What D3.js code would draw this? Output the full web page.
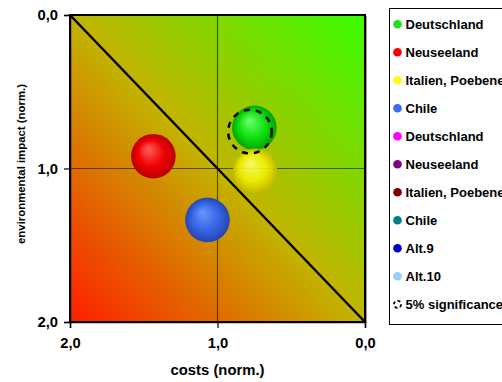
<!DOCTYPE html>
<html>
<head>
<meta charset="utf-8">
<script src="https://cdn.jsdelivr.net/npm/d3@7/dist/d3.min.js"></script>
<style>
  html, body { margin: 0; padding: 0; background: #fff; }
  svg { display: block; }
  text { font-family: "Liberation Sans", Arial, sans-serif; font-weight: bold; }
</style>
</head>
<body>
<svg id="chart" width="502" height="382"></svg>
<script>
// ---- data ----
const categories = ["Deutschland", "Neuseeland", "Italien, Poebene", "Chile"];
const costs      = [0.75, 1.435, 0.746, 1.068];   // x (norm.)
const impacts    = [0.735, 0.92, 1.015, 1.335];   // y (norm.)
const sizes      = [1, 1, 1, 1];
const significanceCost = [0.78];
const significanceImpact = [0.76];
const tickValues = [0, 1, 2];
const legendLabels = ["Deutschland", "Neuseeland", "Italien, Poebene", "Chile",
  "Deutschland", "Neuseeland", "Italien, Poebene", "Chile", "Alt.9", "Alt.10", "5% significance"];
const legendColors = ["#22DD22", "#FF0000", "#FFFF00", "#3D6BF5",
  "#FF00FF", "#800080", "#800000", "#008080", "#0000CC", "#99CCFF", null];

// ---- styling ----
const bubbleStyles = [
  { light: "#6CFF6C", base: "#10E010", dark: "#00A400" },
  { light: "#FF6060", base: "#F00000", dark: "#B80000" },
  { light: "#FFFF70", base: "#F2F000", dark: "#C4B800" },
  { light: "#6A95FF", base: "#3566E6", dark: "#2546AE" }
];

const svg = d3.select("#chart");
const pLeft = 70, pRight = 365, pTop = 15, pBottom = 322;

const x = d3.scaleLinear().domain([2, 0]).range([pLeft, pRight]);
const y = d3.scaleLinear().domain([0, 2]).range([pTop, pBottom]);
const r = d3.scaleSqrt().domain([0, 1]).range([0, 22.3]);

const loc = d3.formatLocale({ decimal: ",", thousands: ".", grouping: [3], currency: ["", "€"] });
const fmt = loc.format(".1f");

// fit a font size so that a text sample reaches a target width
function fitSize(sample, target) {
  const t = svg.append("text").style("font-size", "20px").text(sample);
  const w = t.node().getComputedTextLength();
  t.remove();
  return (20 * target / w).toFixed(2) + "px";
}
const legendSize = fitSize("Deutschland", 78);
const xTitleSize = fitSize("costs (norm.)", 94);
const yTitleSize = fitSize("environmental impact (norm.)", 160);
const tickSize = fitSize("2,0", 20.5);

const defs = svg.append("defs");
const bg = defs.append("linearGradient").attr("id", "bg")
  .attr("x1", 0).attr("y1", 1).attr("x2", 1).attr("y2", 0);
bg.append("stop").attr("offset", 0).attr("stop-color", "#FF1E00");
bg.append("stop").attr("offset", 0.5).attr("stop-color", "#C2B400");
bg.append("stop").attr("offset", 1).attr("stop-color", "#38FF00");

bubbleStyles.forEach((s, i) => {
  const g = defs.append("radialGradient").attr("id", "b" + i)
    .attr("cx", "50%").attr("cy", "50%").attr("r", "50%")
    .attr("fx", "38%").attr("fy", "33%");
  g.append("stop").attr("offset", 0).attr("stop-color", s.light);
  g.append("stop").attr("offset", 0.6).attr("stop-color", s.base);
  g.append("stop").attr("offset", 1).attr("stop-color", s.dark);
});

// shadow
svg.append("rect").attr("x", pLeft + 2).attr("y", pTop + 1)
  .attr("width", pRight - pLeft).attr("height", pBottom - pTop).attr("fill", "#9a9a9a");

// plot background
svg.append("rect").attr("x", pLeft).attr("y", pTop)
  .attr("width", pRight - pLeft).attr("height", pBottom - pTop)
  .attr("fill", "url(#bg)");

// crosshair grid lines at 1,0
svg.append("line").attr("x1", x(1)).attr("x2", x(1)).attr("y1", pTop).attr("y2", pBottom)
  .attr("stroke", "#000").attr("stroke-opacity", 0.55).attr("stroke-width", 1.2);
svg.append("line").attr("x1", pLeft).attr("x2", pRight).attr("y1", y(1)).attr("y2", y(1))
  .attr("stroke", "#000").attr("stroke-opacity", 0.55).attr("stroke-width", 1.2);

// diagonal
svg.append("line").attr("x1", x(2)).attr("y1", y(0)).attr("x2", x(0)).attr("y2", y(2))
  .attr("stroke", "#000").attr("stroke-width", 2.5);

// bubbles
svg.append("g").selectAll("circle").data(categories).join("circle")
  .attr("cx", (d, i) => x(costs[i]))
  .attr("cy", (d, i) => y(impacts[i]))
  .attr("r", (d, i) => r(sizes[i]))
  .attr("fill", (d, i) => `url(#b${i})`)
  .attr("opacity", (d, i) => i === 2 ? 0.9 : 1);

// significance circle
svg.append("g").selectAll("circle").data(significanceCost).join("circle")
  .attr("cx", d => x(d))
  .attr("cy", (d, i) => y(significanceImpact[i]))
  .attr("r", 21.8)
  .attr("fill", "none").attr("stroke", "#000").attr("stroke-width", 2.5)
  .attr("stroke-dasharray", "6,6");

// border
svg.append("rect").attr("x", pLeft).attr("y", pTop)
  .attr("width", pRight - pLeft).attr("height", pBottom - pTop)
  .attr("fill", "none").attr("stroke", "#000").attr("stroke-width", 2);

// axes
const yAxis = d3.axisLeft(y).tickValues(tickValues).tickFormat(fmt).tickSize(6).tickPadding(6);
const yg = svg.append("g").attr("transform", `translate(${pLeft},0)`).call(yAxis);
const xAxis = d3.axisBottom(x).tickValues(tickValues).tickFormat(fmt).tickSize(6).tickPadding(10);
const xg = svg.append("g").attr("transform", `translate(0,${pBottom})`).call(xAxis);
[yg, xg].forEach(g => {
  g.attr("font-family", null).attr("font-size", null);
  g.select(".domain").attr("stroke", "#000").attr("stroke-width", 1.5);
  g.selectAll(".tick line").attr("stroke", "#000").attr("stroke-width", 1.2);
  g.selectAll(".tick text").attr("fill", "#000").style("font-size", tickSize);
});

// axis titles
svg.append("text").attr("x", 217.5).attr("y", 375).attr("text-anchor", "middle")
  .style("font-size", xTitleSize).text("costs (norm.)");
svg.append("text").attr("transform", "translate(25,164) rotate(-90)").attr("text-anchor", "middle")
  .style("font-size", yTitleSize).text("environmental impact (norm.)");

// legend
const lg = svg.append("g");
lg.append("rect").attr("x", 389.5).attr("y", 8.5).attr("width", 130).attr("height", 316)
  .attr("fill", "#fff").attr("stroke", "#000").attr("stroke-width", 1);
const rows = lg.selectAll("g.row").data(legendLabels).join("g").attr("class", "row")
  .attr("transform", (d, i) => `translate(0,${24.3 + i * 28})`);
rows.each(function(d, i) {
  const g = d3.select(this);
  if (legendColors[i]) {
    g.append("circle").attr("cx", 397.5).attr("cy", 0).attr("r", 4.3)
      .attr("fill", legendColors[i]);
  } else {
    g.append("circle").attr("cx", 397.5).attr("cy", 0).attr("r", 3.6)
      .attr("fill", "none").attr("stroke", "#000").attr("stroke-width", 1.8)
      .attr("stroke-dasharray", "3,2.5");
  }
  g.append("text").attr("x", 405.5).attr("y", 4.8)
    .style("font-size", legendSize).text(d);
});
</script>
</body>
</html>
